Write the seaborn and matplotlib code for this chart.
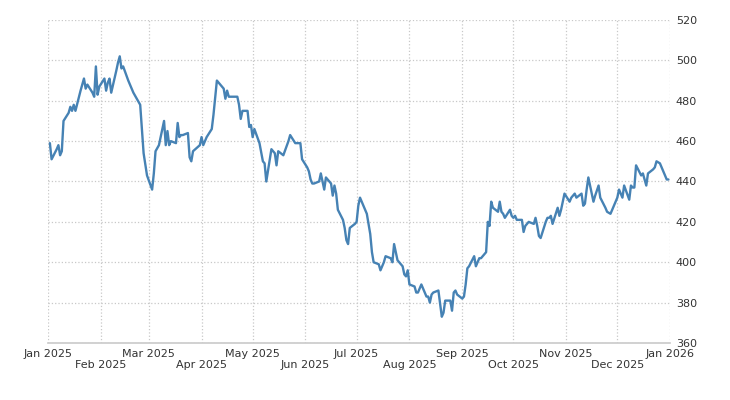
import matplotlib
matplotlib.use("Agg")
import matplotlib.pyplot as plt
import pandas as pd
import seaborn as sns

sns.set_theme(style="white")
plt.rcParams["font.family"] = ["DejaVu Sans"]

dates = """Jan 2,Jan 3,Jan 6,Jan 7,Jan 8,Jan 9,Jan 10,Jan 13,Jan 14,Jan 15,Jan 16,Jan 17,Jan 20,Jan 21,Jan 22,Jan 23,Jan 24,Jan 27,Jan 28,Jan 29,Jan 30,Jan 31,
Feb 3,Feb 4,Feb 5,Feb 6,Feb 7,Feb 10,Feb 11,Feb 12,Feb 13,Feb 14,Feb 17,Feb 20,Feb 24,Feb 25,Feb 26,Feb 28,
Mar 3,Mar 4,Mar 5,Mar 7,Mar 10,Mar 11,Mar 12,Mar 13,Mar 14,Mar 17,Mar 18,Mar 19,Mar 20,Mar 21,Mar 24,Mar 25,Mar 26,Mar 27,Mar 31,
Apr 1,Apr 2,Apr 3,Apr 4,Apr 7,Apr 8,Apr 10,Apr 14,Apr 15,Apr 16,Apr 17,Apr 22,Apr 23,Apr 24,Apr 25,Apr 28,Apr 29,Apr 30,
May 1,May 2,May 5,May 7,May 8,May 9,May 12,May 13,May 14,May 15,May 16,May 19,May 22,May 23,May 26,May 29,May 30,
Jun 2,Jun 3,Jun 4,Jun 5,Jun 6,Jun 9,Jun 10,Jun 11,Jun 12,Jun 13,Jun 16,Jun 17,Jun 18,Jun 19,Jun 20,Jun 23,Jun 24,Jun 25,Jun 26,Jun 27,Jun 30,
Jul 1,Jul 2,Jul 3,Jul 7,Jul 9,Jul 10,Jul 11,Jul 14,Jul 15,Jul 17,Jul 18,Jul 21,Jul 22,Jul 23,Jul 24,Jul 25,Jul 28,Jul 29,Jul 30,Jul 31,
Aug 1,Aug 4,Aug 5,Aug 6,Aug 7,Aug 8,Aug 11,Aug 12,Aug 13,Aug 14,Aug 15,Aug 18,Aug 20,Aug 21,Aug 22,Aug 25,Aug 26,Aug 27,Aug 28,Aug 29,
Sep 1,Sep 2,Sep 3,Sep 4,Sep 5,Sep 8,Sep 9,Sep 10,Sep 11,Sep 12,Sep 15,Sep 16,Sep 17,Sep 18,Sep 19,Sep 22,Sep 23,Sep 24,Sep 25,Sep 26,Sep 29,Sep 30,
Oct 1,Oct 2,Oct 3,Oct 6,Oct 7,Oct 8,Oct 9,Oct 10,Oct 13,Oct 14,Oct 15,Oct 16,Oct 17,Oct 20,Oct 21,Oct 22,Oct 23,Oct 24,Oct 27,Oct 28,Oct 29,Oct 30,Oct 31,
Nov 3,Nov 4,Nov 5,Nov 6,Nov 7,Nov 10,Nov 11,Nov 12,Nov 13,Nov 14,Nov 17,Nov 18,Nov 20,Nov 21,Nov 24,Nov 25,Nov 27,
Dec 1,Dec 2,Dec 3,Dec 4,Dec 5,Dec 8,Dec 9,Dec 10,Dec 11,Dec 12,Dec 15,Dec 16,Dec 17,Dec 18,Dec 19,Dec 22,Dec 23,Dec 24,Dec 26,Dec 29,Dec 30,Dec 31"""
dates = [d.strip() + " 2025" for d in dates.replace("\n", "").split(",")]

values = [459, 451, 456, 458, 453, 455, 470, 474, 477, 475, 478, 475, 485, 488, 491, 486, 488, 484, 482, 497, 483, 487,
          491, 485, 489, 491, 484, 495, 499, 502, 496, 497, 490, 484, 478, 466, 454, 443,
          436, 444, 455, 458, 470, 458, 465, 458, 460, 459, 469, 462, 463, 463, 464, 452, 450, 455, 458,
          462, 458, 460, 462, 466, 473, 490, 486, 481, 485, 482, 482, 478, 471, 475, 475, 467, 468,
          462, 466, 459, 450, 449, 440, 456, 455, 454, 448, 455, 453, 460, 463, 459, 459, 451,
          447, 445, 441, 439, 439, 440, 444, 440, 436, 442, 439, 433, 438, 434, 426, 421, 417, 411, 409, 417, 419,
          420, 428, 432, 424, 414, 405, 400, 399, 396, 400, 403, 402, 400, 409, 405, 401, 398, 394, 393, 396,
          389, 388, 385, 385, 387, 389, 383, 383, 380, 384, 385, 386, 373, 375, 381, 381, 376, 385, 386, 384,
          382, 383, 389, 397, 398, 403, 398, 400, 402, 402, 405, 420, 418, 430, 427, 425, 430, 425, 424, 422, 426, 423,
          422, 423, 421, 421, 415, 418, 419, 420, 419, 422, 418, 413, 412, 420, 422, 422, 423, 419, 427, 423, 426, 430, 434,
          430, 432, 433, 434, 432, 434, 428, 429, 436, 442, 430, 433, 438, 432, 427, 425, 424,
          432, 436, 434, 432, 438, 431, 438, 437, 437, 448, 443, 444, 441, 438, 444, 446, 447, 450, 449, 443, 441, 441]

df = pd.DataFrame({"date": pd.to_datetime(dates, format="%b %d %Y"), "value": values})

fig = plt.figure(figsize=(7.3, 4.0), dpi=100)
ax = fig.add_axes([0.066, 0.1425, 0.852, 0.8075])
sns.lineplot(data=df, x="date", y="value", ax=ax, color="#4682b4", linewidth=1.7)

ax.set_xlim(pd.Timestamp("2025-01-01"), pd.Timestamp("2026-01-01"))
ax.set_ylim(360, 520)
ax.set_yticks(range(360, 521, 20))
ax.yaxis.tick_right()
months = pd.date_range("2025-01-01", "2026-01-01", freq="MS")
ax.set_xticks(months)
ax.set_xticklabels([m.strftime("%b %Y") if i % 2 == 0 else "\n" + m.strftime("%b %Y")
                    for i, m in enumerate(months)])
ax.tick_params(axis="both", labelsize=8, colors="#333333", length=0, pad=4)
ax.grid(True, linestyle=":", color="#c8c8c8", linewidth=0.9)
for s in ["top", "right", "left"]:
    ax.spines[s].set_visible(False)
ax.spines["bottom"].set_color("#cccccc")
ax.set_xlabel("")
ax.set_ylabel("")

fig.savefig("out.png", dpi=100)
